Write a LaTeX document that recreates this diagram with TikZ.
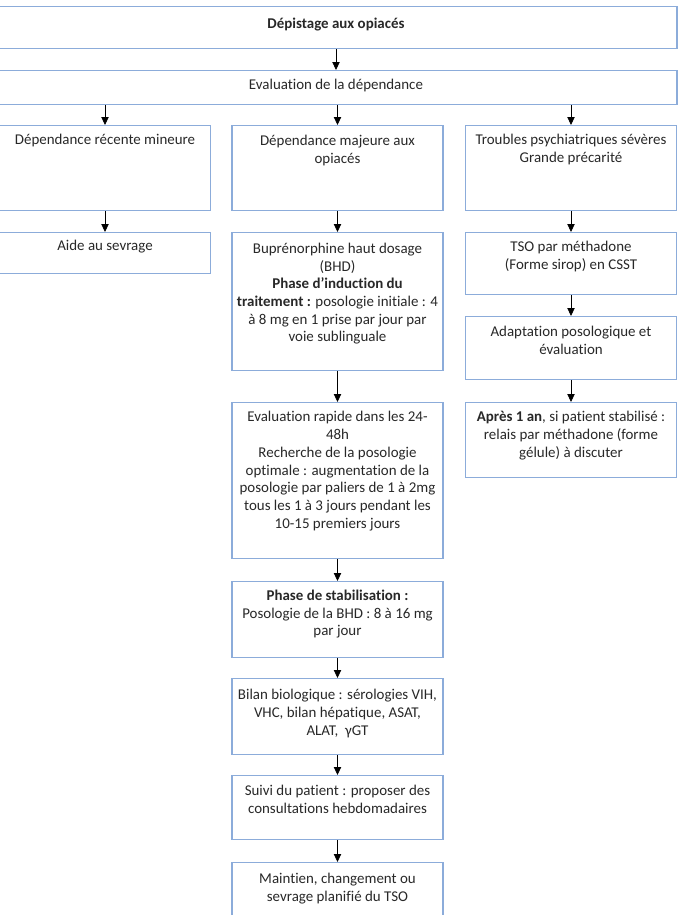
\documentclass[tikz,border=0pt]{standalone}
\usepackage{fontspec}
\setmainfont{Carlito}[Ligatures=NoCommon]
\usepackage{tikz}
\usetikzlibrary{positioning,arrows.meta}

\definecolor{boxblue}{RGB}{140,172,218}
\definecolor{textgray}{RGB}{40,40,40}

\begin{document}
\begin{tikzpicture}[
    x=0.75pt, y=-0.75pt,
    frame/.style={draw=boxblue, line width=0.9pt, anchor=north, inner sep=0pt, minimum width=158.25pt},
    txt/.style={align=center, inner sep=0pt, text=textgray, font=\fontsize{11.2}{13.3}\selectfont},
    arrow/.style={draw, -{Triangle[length=6pt,width=5.5pt]}, line width=0.6pt, black}
]

\fill[white] (0,0) rectangle (679,915);
\clip (0,0) rectangle (679,915);

% Define box positions
\node[frame, minimum width=511.5pt, minimum height=31.5pt] (depist) at (336,6) {};
\node[frame, minimum width=511.5pt, minimum height=25.5pt] (evaldep) at (336,70) {};

\node[frame, minimum height=63.75pt] (mineure) at (105,125) {};
\node[frame, minimum height=30.75pt] (aide) at (105,232) {};

\node[frame, minimum height=63.75pt] (majeure) at (337.5,125) {};
\node[frame, minimum height=103.5pt] (bhd) at (337.5,232) {};
\node[frame, minimum height=117pt] (rapide) at (337.5,402) {};
\node[frame, minimum height=57pt] (stab) at (337.5,581) {};
\node[frame, minimum height=57pt] (bilan) at (337.5,678) {};
\node[frame, minimum height=48pt] (suivi) at (337.5,775) {};
\node[frame, minimum height=60pt] (maintien) at (337.5,862) {};

\node[frame, minimum height=63.75pt] (troubles) at (571,125) {};
\node[frame, minimum height=46.5pt] (tso) at (571,232) {};
\node[frame, minimum height=47.25pt] (adapt) at (571,316) {};
\node[frame, minimum height=56.25pt] (apres) at (571,402) {};

% Add box texts
\node[txt, below=9pt of depist.north] (tdepist) {\textbf{Dépistage aux opiacés}};
\node[txt, below=7pt of evaldep.north] (tevaldep) {Evaluation de la dépendance};

\node[txt, below=6.5pt of mineure.north] (tmineure) {Dépendance récente mineure};
\node[txt, below=6pt of aide.north] (taide) {Aide au sevrage};

\node[txt, below=7.5pt of majeure.north] (tmajeure) {Dépendance majeure aux\\opiacés};
\node[txt, below=8pt of bhd.north] (tbhd) {Buprénorphine haut dosage\\(BHD)\\\textbf{Phase d’induction du}\\\textbf{traitement :} posologie initiale : 4\\à 8 mg en 1 prise par jour par\\voie sublinguale};
\node[txt, below=7pt of rapide.north] (trapide) {Evaluation rapide dans les 24-\\48h\\Recherche de la posologie\\optimale : augmentation de la\\posologie par paliers de 1 à 2mg\\tous les 1 à 3 jours pendant les\\10-15 premiers jours};
\node[txt, below=6.5pt of stab.north] (tstab) {\textbf{Phase de stabilisation :}\\Posologie de la BHD : 8 à 16 mg\\par jour};
\node[txt, below=8.5pt of bilan.north] (tbilan) {Bilan biologique : sérologies VIH,\\VHC, bilan hépatique, ASAT,\\ALAT,~ γGT};
\node[txt, below=7.5pt of suivi.north] (tsuivi) {Suivi du patient : proposer des\\consultations hebdomadaires};
\node[txt, below=8.5pt of maintien.north] (tmaintien) {Maintien, changement ou\\sevrage planifié du TSO};

\node[txt, below=7pt of troubles.north] (ttroubles) {Troubles psychiatriques sévères\\Grande précarité};
\node[txt, below=6.5pt of tso.north] (ttso) {TSO par méthadone\\(Forme sirop) en CSST};
\node[txt, below=7.5pt of adapt.north] (tadapt) {Adaptation posologique et\\évaluation};
\node[txt, below=7pt of apres.north] (tapres) {\textbf{Après 1 an}, si patient stabilisé :\\relais par méthadone (forme\\gélule) à discuter};

% Draw arrows
\draw[arrow] (depist) -- (evaldep);
\draw[arrow] (evaldep.south -| mineure.north) -- (mineure);
\draw[arrow] (evaldep.south -| majeure.north) -- (majeure);
\draw[arrow] (evaldep.south -| troubles.north) -- (troubles);
\draw[arrow] (mineure) -- (aide);
\draw[arrow] (majeure) -- (bhd);
\draw[arrow] (bhd) -- (rapide);
\draw[arrow] (rapide) -- (stab);
\draw[arrow] (stab) -- (bilan);
\draw[arrow] (bilan) -- (suivi);
\draw[arrow] (suivi) -- (maintien);
\draw[arrow] (troubles) -- (tso);
\draw[arrow] (tso) -- (adapt);
\draw[arrow] (adapt) -- (apres);

\end{tikzpicture}
\end{document}
